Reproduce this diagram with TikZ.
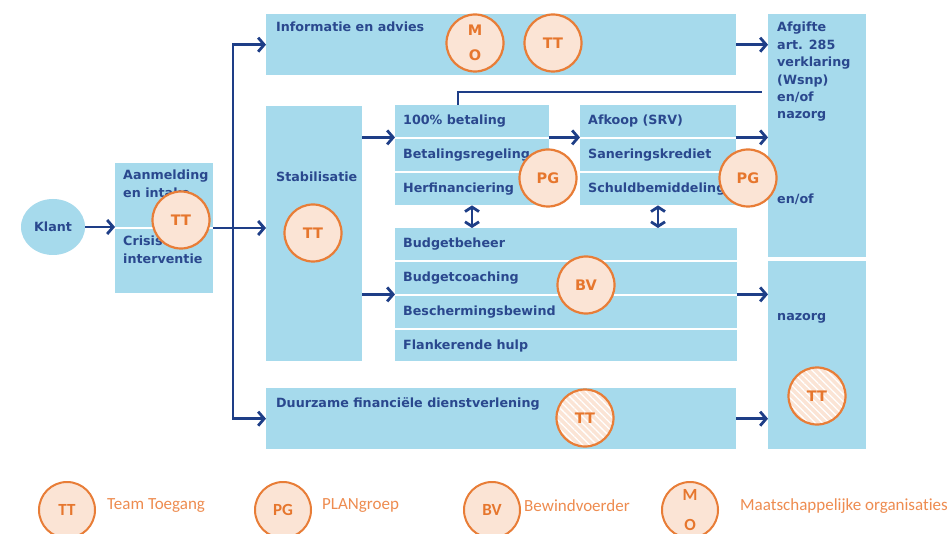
\documentclass[tikz,border=0pt]{standalone}
\usepackage{fontspec}
\setmainfont{DejaVu Sans}
\newfontfamily\legfont[Ligatures=NoCommon]{Carlito}
\usetikzlibrary{arrows.meta,patterns.meta,shapes.geometric}
\definecolor{boxblue}{RGB}{166,218,236}
\definecolor{txtblue}{RGB}{42,72,142}
\definecolor{arrblue}{RGB}{30,62,135}
\definecolor{orgline}{RGB}{232,125,55}
\definecolor{orgfill}{RGB}{251,228,213}
\definecolor{orgtext}{RGB}{230,118,45}
\definecolor{legtext}{RGB}{238,140,80}
\begin{document}
\begin{tikzpicture}[x=1pt,y=-1pt,
  box/.style={fill=boxblue, draw=none, inner sep=0pt, anchor=north west},
  lbl/.style={inner sep=0pt, text=txtblue, font=\fontsize{12.7}{17.4}\selectfont\bfseries, align=left},
  arr/.style={draw=arrblue, line width=2.8pt, -{Straight Barb[length=6pt,width=14pt]}},
  darr/.style={draw=arrblue, line width=2.8pt, {Straight Barb[length=4.5pt,width=14pt]}-{Straight Barb[length=4.5pt,width=14pt]}},
  ln/.style={draw=arrblue, line width=2.8pt},
  org/.style={circle, draw=orgline, fill=orgfill, line width=2.2pt, minimum size=57pt, inner sep=0pt, text=orgtext, font=\fontsize{14.5}{25}\selectfont\bfseries, align=center},
  hatch/.style={circle, draw=orgline, line width=2.2pt, minimum size=57pt, inner sep=0pt, text=orgtext, font=\fontsize{14.5}{25}\selectfont\bfseries, preaction={fill=orgfill}, pattern={Lines[angle=-45,distance=5pt,line width=1.3pt]}, pattern color=white},
  leg/.style={circle, draw=orgline, fill=orgfill, line width=2pt, minimum size=56pt, inner sep=0pt, text=orgtext, font=\legfont\fontsize{17}{30}\selectfont\bfseries, align=center},
  legtxt/.style={inner sep=0pt, text=legtext, font=\legfont\fontsize{17}{20}\selectfont, anchor=west}
]
\clip (0,0) rectangle (952,534);
\fill[white] (0,0) rectangle (952,534);

% boxes
\node[box, minimum width=98pt, minimum height=130pt] (aan) at (115,163) {};
\draw[white, line width=2pt] (aan.west) -- (aan.east);
\node[box, minimum width=470pt, minimum height=61pt] (info) at (266,14) {};
\node[box, minimum width=96pt, minimum height=255pt] (stab) at (266,106) {};
\node[box, minimum width=470pt, minimum height=61pt] (duur) at (266,388) {};
\node[box, minimum width=98pt, minimum height=243pt] (afg) at (768,14) {};
\node[box, minimum width=98pt, minimum height=188pt] (naz) at (768,261) {};
\node[box, minimum width=154pt, minimum height=32pt] (g1a) at (395,105) {};
\node[box, minimum width=154pt, minimum height=32pt] (g1b) at (395,139) {};
\node[box, minimum width=154pt, minimum height=32pt] (g1c) at (395,173) {};
\node[box, minimum width=156pt, minimum height=32pt] (g2a) at (580,105) {};
\node[box, minimum width=156pt, minimum height=32pt] (g2b) at (580,139) {};
\node[box, minimum width=156pt, minimum height=32pt] (g2c) at (580,173) {};
\node[box, minimum width=342pt, minimum height=32pt] (bua) at (395,228) {};
\node[box, minimum width=342pt, minimum height=32pt] (bub) at (395,262) {};
\node[box, minimum width=342pt, minimum height=32pt] (buc) at (395,296) {};
\node[box, minimum width=342pt, minimum height=31pt] (bud) at (395,330) {};
\node[ellipse, fill=boxblue, minimum width=64pt, minimum height=56pt, inner sep=0pt, text=txtblue, font=\fontsize{12.7}{15}\selectfont\bfseries] (klant) at (53,227) {Klant};

% texts
\node[lbl, anchor=north west] (taan) at (123,170) {Aanmelding\\en intake};
\node[lbl, anchor=north west] (tcri) at (123,236) {Crisis\\interventie};
\node[lbl, anchor=north west] (tinfo) at (276,22) {Informatie en advies};
\node[lbl, anchor=north west] (tstab) at (276,172) {Stabilisatie};
\node[lbl, anchor=west] (t1a) at ([xshift=8pt]g1a.west) {100\% betaling};
\node[lbl, anchor=west] (t1b) at ([xshift=8pt]g1b.west) {Betalingsregeling};
\node[lbl, anchor=west] (t1c) at ([xshift=8pt]g1c.west) {Herfinanciering};
\node[lbl, anchor=west] (t2a) at ([xshift=8pt]g2a.west) {Afkoop (SRV)};
\node[lbl, anchor=west] (t2b) at ([xshift=8pt]g2b.west) {Saneringskrediet};
\node[lbl, anchor=west] (t2c) at ([xshift=8pt]g2c.west) {Schuldbemiddeling};
\node[lbl, anchor=west] (tba) at ([xshift=8pt]bua.west) {Budgetbeheer};
\node[lbl, anchor=west] (tbb) at ([xshift=8pt]bub.west) {Budgetcoaching};
\node[lbl, anchor=west] (tbc) at ([xshift=8pt]buc.west) {Beschermingsbewind};
\node[lbl, anchor=west] (tbd) at ([xshift=8pt]bud.west) {Flankerende hulp};
\node[lbl, anchor=north west] (tduur) at (276,397) {Duurzame financiële dienstverlening};
\node[lbl, anchor=north west] (tafg) at (777,22) {Afgifte\\art. 285\\verklaring\\(Wsnp)\\en/of\\nazorg};
\node[lbl, anchor=north west] (tenof) at (777,194) {en/of};
\node[lbl, anchor=north west] (tnaz) at (777,313) {nazorg};

% connectors
\coordinate (split) at (233,228);
\draw[arr] (klant.east) -- (klant.east -| aan.west);
\draw[ln] (aan.east |- split) -- (split);
\draw[arr] (split) -- (split -| stab.west);
\draw[arr] (split) |- (info.west);
\draw[arr] (split) |- (duur.west);
\draw[arr] (stab.east |- g1a.south) -- (g1a.south west);
\draw[arr] (stab.east |- bub.south) -- (bub.south west);
\draw[arr] (g1a.south east) -- (g2a.south west);
\draw[arr] (g2a.south east) -- (g2a.south east -| afg.west);
\draw[arr] (info.east) -- (info.east -| afg.west);
\draw[arr] (bub.south east) -- (bub.south east -| naz.west);
\draw[arr] (duur.east) -- (duur.east -| naz.west);
\coordinate (kink) at (458,92);
\draw[ln] (kink |- g1a.north) -- (kink) -- ([xshift=-6pt]kink -| afg.west);
\coordinate (d1) at (472,0);
\coordinate (d2) at (658,0);
\draw[darr] (d1 |- g1c.south) -- (d1 |- bua.north);
\draw[darr] (d2 |- g2c.south) -- (d2 |- bua.north);

% organisation circles
\node[org] (oaan) at (181,220) {TT};
\node[org] (omo) at (475,43) {M\\O};
\node[org] (oinfo) at (553,43) {TT};
\node[org] (ostab) at (313,233) {TT};
\node[org] (opg1) at (548,178) {PG};
\node[org] (opg2) at (748,178) {PG};
\node[org] (obv) at (586,285) {BV};
\node[hatch] (oduur) at (585,418) {TT};
\node[hatch] (onaz) at (817,396) {TT};

% legend
\node[leg] (lt) at (67,510) {TT};
\node[legtxt] (ltt) at (107,506) {Team Toegang};
\node[leg] (lp) at (283,510) {PG};
\node[legtxt] (lpt) at (322,506) {PLANgroep};
\node[leg] (lb) at (492,510) {BV};
\node[legtxt] (lbt) at (524,506) {Bewindvoerder};
\node[leg] (lm) at (690,510) {M\\O};
\node[legtxt] (lmt) at (740,506) {Maatschappelijke organisaties};
\end{tikzpicture}
\end{document}
